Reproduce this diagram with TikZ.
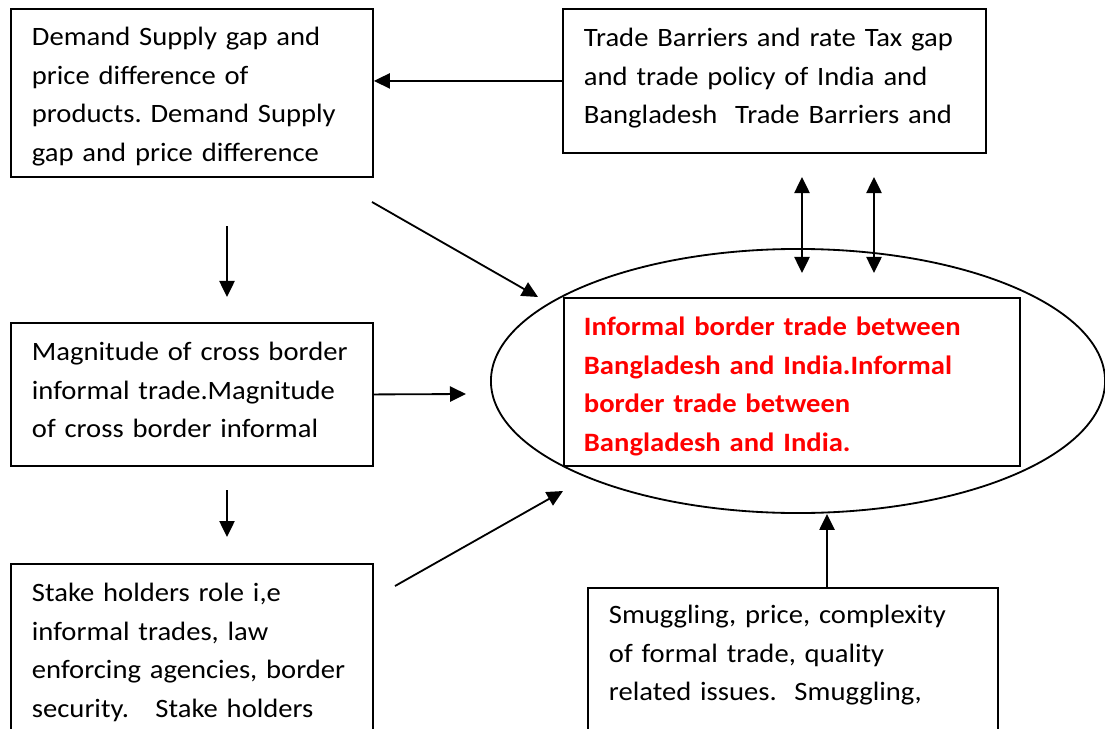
\documentclass[tikz,border=0pt]{standalone}
\usepackage{fontspec}
\setmainfont{Carlito}[FakeStretch=1.08]
\usetikzlibrary{arrows.meta,shapes.geometric}

\tikzset{
    factor/.style={draw, line width=1.3pt, anchor=north west, align=left,
        inner ysep=0pt, inner xsep=0.525cm,
        execute at begin node={\frenchspacing\hyphenpenalty=10000},
        font=\fontsize{18.85}{27.39}\selectfont},
    arr/.style={line width=1.3pt, -{Triangle[length=4mm,width=3.8mm]}},
    dblarr/.style={line width=1.3pt, {Triangle[length=4mm,width=3.8mm]}-{Triangle[length=4mm,width=3.8mm]}}
}

\begin{document}
\begin{tikzpicture}[x=0.025cm,y=-0.025cm]

            \clip (0,0) rectangle (1105,729);

            \node[draw, ellipse, line width=1.3pt, inner sep=0pt, minimum width=15.35cm, minimum height=6.6cm] (ring) at (798,381) {};

            \node[factor, text width=8cm, text height=0.925cm, text depth=3.275cm] (demand) at (10,8)
                {Demand Supply gap and\\ price difference of\\ products. Demand Supply\\ gap and price difference};
            \node[factor, text width=9.525cm, text height=0.95cm, text depth=2.65cm] (barriers) at (562,8)
                {Trade Barriers and rate Tax gap\\ and trade policy of India and\\ Bangladesh\ \ Trade Barriers and};
            \node[factor, text width=8cm, text height=0.95cm, text depth=2.625cm] (magnitude) at (10,322)
                {Magnitude of cross border\\ informal trade.Magnitude\\ of cross border informal};
            \node[factor, text width=8cm, text height=0.95cm, text depth=5cm] (stake) at (10,563)
                {Stake holders role i,e\\ informal trades, law\\ enforcing agencies, border\\ security.\ \ \ Stake holders};
            \node[factor, text width=9.2cm, text height=0.9cm, text depth=5cm] (smuggling) at (587,587)
                {Smuggling, price, complexity\\ of formal trade, quality\\ related issues.\ \ Smuggling,};
            \node[factor, text width=10.4cm, inner xsep=0.5cm, text height=0.95cm, text depth=3.25cm, text=red, font=\fontsize{18.85}{27.39}\selectfont\bfseries] (informal) at (563,297)
                {Informal border trade between\\ Bangladesh and India.Informal\\ border trade between\\ Bangladesh and India.};

            \coordinate (a1) at (227,226);
            \coordinate (a2) at (227,297);
            \coordinate (b1) at (227,490);
            \coordinate (b2) at (227,537);
            \coordinate (c1) at (372,202);
            \coordinate (c2) at (538,297);
            \coordinate (e2) at (466,394);
            \coordinate (f1) at (395,586);
            \coordinate (f2) at (563,491);

            \draw[arr] (barriers.west) -- (barriers.west -| demand.east);
            \draw[arr] (a1) -- (a2);
            \draw[arr] (b1) -- (b2);
            \draw[arr] (c1) -- (c2);
            \draw[arr] (magnitude.east) -- (e2);
            \draw[arr] (f1) -- (f2);
            \draw[arr] (smuggling.north -| 827,0) -- (ring.south -| 827,0);

            \foreach \x in {802,874} {
                    \draw[dblarr] (\x,177) -- (\x,273);
                }

        \end{tikzpicture}
\end{document}
